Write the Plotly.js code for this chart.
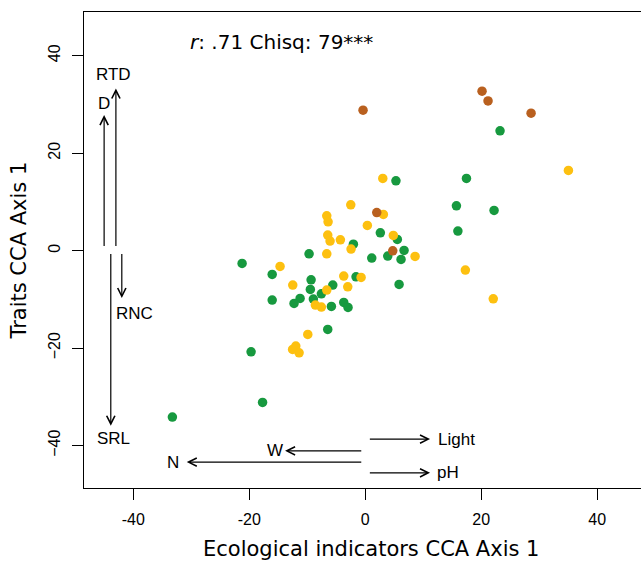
<!DOCTYPE html>
<html>
<head>
<meta charset="utf-8">
<script src="https://cdn.plot.ly/plotly-3.0.1.min.js"></script>
<style>
html,body{margin:0;padding:0;overflow:hidden;background:#ffffff;}
#chart{width:660px;height:562px;}
</style>
</head>
<body>
<div id="chart"></div>
<script>
// ---- site scores (Ecological indicators CCA axis 1 vs Traits CCA axis 1) ----
const greenX = [23.24, 17.45, 5.29, 15.72, 22.21, 15.97, 2.6, 5.53, -2.05, 6.69, -9.69, 1.12, 3.88, 6.17,
  -9.34, -1.59, 5.83, -9.47, -5.6, -7.57, -11.24, -8.95, -12.28, -5.84, -3.71, -2.97, -6.47,
  -21.24, -16.05, -16.05, -19.69, -17.71, -33.26];
const greenY = [24.57, 14.81, 14.32, 9.19, 8.25, 4.0, 3.65, 2.3, 1.33, 0.04, -0.66, -1.54, -1.13, -1.81,
  -5.99, -5.37, -6.93, -7.96, -7.08, -8.86, -9.81, -9.95, -10.83, -11.45, -10.63, -11.65, -16.16,
  -2.63, -4.88, -10.15, -20.76, -31.14, -34.15];

const yellowX = [35.03, 3.02, -2.5, 3.12, -6.64, -6.41, 0.36, -6.47, -6.07, -4.29, 4.84, -2.45, -6.64, 8.59,
  -14.69, -12.5, -3.71, -0.72, -3.02, -6.64, -8.6, -7.57, 17.26, 22.07, -9.91, -12.53, -11.98, -11.41];
const yellowY = [16.45, 14.81, 9.39, 7.43, 7.14, 5.91, 5.17, 3.18, 1.95, 2.22, 3.12, 0.31, -0.66, -1.19,
  -3.24, -7.08, -5.23, -5.5, -7.43, -8.1, -11.18, -11.59, -4.0, -9.89, -17.19, -20.27, -19.59, -20.96];

const brownX = [-0.38, 20.14, 21.17, 28.59, 1.98, 4.74];
const brownY = [28.8, 32.7, 30.7, 28.2, 7.8, -0.04];

// ---- trait arrows (vertical) ----
const traitNames = ['RTD', 'D', 'RNC', 'SRL'];
const traitX     = [-43.0, -45.03, -41.98, -43.88];
const traitY0    = [0.66, 0.66, -0.37, -0.37];
const traitY1    = [33.27, 27.8, -9.74, -35.94];
const traitLabX  = [-43.48, -45.03, -39.81, -43.48];
const traitLabY  = [36.2, 30.2, -12.82, -38.46];

// ---- ecological indicator arrows (horizontal) ----
const envNames = ['Light', 'W', 'N', 'pH'];
const envX0    = [0.53, -0.43, -0.43, 0.53];
const envX1    = [11.17, -13.83, -30.78, 11.17];
const envY     = [-38.67, -41.07, -43.38, -45.58];
const envLabX  = [15.71, -15.55, -33.09, 14.19];

const statText = '<i>r</i>: .71 Chisq: 79***';
const statX = -14.5, statY = 42.77;

const xTicks = [-40, -20, 0, 20, 40];
const yTicks = [-40, -20, 0, 20, 40];

const COL_GREEN = '#17993f';
const COL_YELLOW = '#fdc010';
const COL_BROWN = '#b9601f';

const pts = (x, y, c) => ({
  type: 'scatter', mode: 'markers', x: x, y: y,
  marker: {color: c, size: 9.5, line: {width: 0}},
  hoverinfo: 'x+y', showlegend: false
});

const traces = [pts(greenX, greenY, COL_GREEN), pts(yellowX, yellowY, COL_YELLOW), pts(brownX, brownY, COL_BROWN)];

const labFont = {family: 'Liberation Sans, Arial, sans-serif', size: 17, color: '#000'};
const arrowBase = {xref: 'x', yref: 'y', axref: 'x', ayref: 'y', text: '', showarrow: true,
  arrowhead: 5, arrowsize: 1.35, arrowwidth: 1.2, arrowcolor: '#000', standoff: 0, startstandoff: 0};

const ann = [];
traitNames.forEach((n, i) => {
  ann.push(Object.assign({}, arrowBase, {x: traitX[i], y: traitY1[i], ax: traitX[i], ay: traitY0[i]}));
  ann.push({xref: 'x', yref: 'y', x: traitLabX[i], y: traitLabY[i], text: n, showarrow: false,
    xanchor: 'center', yanchor: 'middle', font: labFont});
});
envNames.forEach((n, i) => {
  ann.push(Object.assign({}, arrowBase, {x: envX1[i], y: envY[i], ax: envX0[i], ay: envY[i]}));
  ann.push({xref: 'x', yref: 'y', x: envLabX[i], y: envY[i], text: n, showarrow: false,
    xanchor: 'center', yanchor: 'middle', font: labFont});
});
ann.push({xref: 'x', yref: 'y', x: statX, y: statY, text: statText, showarrow: false,
  xanchor: 'center', yanchor: 'middle', font: {family: 'DejaVu Sans, sans-serif', size: 20, color: '#000'}});
// axis titles
ann.push({xref: 'paper', yref: 'paper', x: 0.4986, y: 0, yshift: -61, text: 'Ecological indicators CCA Axis 1',
  showarrow: false, xanchor: 'center', yanchor: 'middle', font: {family: 'DejaVu Sans, sans-serif', size: 21, color: '#000'}});
ann.push({xref: 'paper', yref: 'y', x: 0, xshift: -65, y: 0, text: 'Traits CCA Axis 1', textangle: -90,
  showarrow: false, xanchor: 'center', yanchor: 'middle', font: {family: 'DejaVu Sans, sans-serif', size: 21, color: '#000'}});

const axisCommon = {
  showgrid: false, zeroline: false, showline: true, mirror: true, linecolor: '#000', linewidth: 1,
  ticks: 'outside', ticklen: 11, tickwidth: 1, tickcolor: '#000',
  tickfont: {family: 'Liberation Sans, Arial, sans-serif', size: 16, color: '#000'}
};

const layout = {
  width: 660, height: 562,
  margin: {l: 84, r: 1, t: 12, b: 74, pad: 0},
  paper_bgcolor: '#fff', plot_bgcolor: '#fff',
  showlegend: false,
  xaxis: Object.assign({}, axisCommon, {range: [-48.5, 50.65], tickvals: xTicks, ticktext: xTicks.map(String), ticklabelstandoff: 6}),
  yaxis: Object.assign({}, axisCommon, {range: [-48.7, 48.95], tickvals: yTicks, tickangle: -90, ticklabelstandoff: 6}),
  annotations: ann
};

Plotly.newPlot('chart', traces, layout, {displayModeBar: false, staticPlot: true});
</script>
</body>
</html>
